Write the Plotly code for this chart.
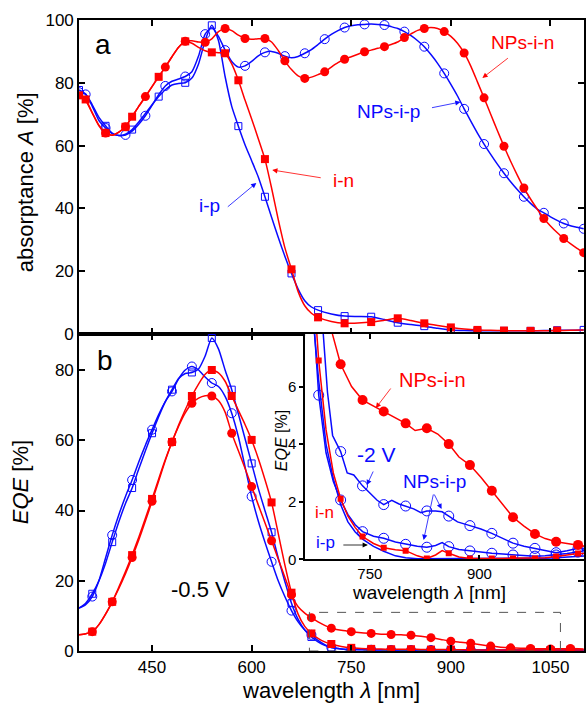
import plotly.graph_objects as go

RED = '#ff0000'
BLUE = '#0a0aff'
FONT = 'Liberation Sans, Arial, sans-serif'

# ---------------- panel a : absorptance A [%] ----------------
A_IN_WL = [340, 350, 360, 370, 380, 390, 400, 410, 420, 430, 440, 450, 460, 470, 480, 490, 500, 510, 520, 530,
           540, 550, 560, 570, 580, 590, 600, 610, 620, 630, 640, 650, 660, 670, 680, 690, 700, 720, 740, 760,
           780, 800, 820, 840, 860, 880, 900, 920, 940, 960, 980, 1000, 1020, 1040, 1060, 1080, 1100]
A_IN = [76.0, 74.7, 70.5, 66.5, 64.0, 63.3, 64.3, 66.0, 69.2, 72.5, 75.6, 78.8, 81.9, 85.0, 88.3, 91.3, 93.2, 92.6, 91.3, 90.2,
        89.7, 89.6, 89.4, 86.0, 80.8, 74.5, 68.5, 62.2, 55.7, 46.5, 36.5, 27.5, 20.6, 13.5, 9.0, 6.6, 5.3, 4.0, 3.4, 3.5,
        3.8, 4.4, 5.0, 4.3, 3.4, 2.7, 2.1, 1.6, 1.3, 1.2, 1.1, 1.0, 1.0, 1.0, 1.1, 1.2, 1.3]
A_IN_MARK = [340, 350, 380, 410, 420, 460, 500, 540, 560, 580, 620, 660, 700, 740, 780, 820, 860, 900, 940, 980, 1020, 1060]

A_NPIN_WL = [340, 350, 360, 370, 380, 390, 400, 410, 420, 430, 440, 450, 460, 470, 480, 490, 500, 510, 520, 530,
             540, 550, 560, 570, 580, 590, 600, 610, 620, 630, 640, 650, 660, 670, 680, 690, 700, 710, 720, 730,
             740, 750, 760, 770, 780, 790, 800, 810, 820, 830, 840, 850, 860, 870, 880, 890, 900, 910, 920, 930,
             940, 950, 960, 970, 980, 990, 1000, 1010, 1020, 1030, 1040, 1050, 1060, 1070, 1080, 1090, 1100]
A_NPIN = [75.5, 74.3, 70.3, 66.3, 64.0, 63.3, 64.3, 66.0, 69.2, 72.5, 75.6, 78.8, 82.0, 85.0, 88.3, 91.3, 93.2, 93.4, 93.0, 92.9,
          94.0, 96.3, 97.3, 96.6, 95.2, 94.1, 93.9, 94.0, 94.1, 93.0, 90.3, 87.0, 84.2, 82.2, 81.4, 81.8, 82.6, 83.5, 85.0, 86.4,
          87.5, 88.3, 89.1, 89.9, 90.4, 91.0, 91.5, 92.2, 93.0, 94.4, 95.6, 96.7, 97.3, 97.6, 97.3, 96.3, 94.8, 92.6, 89.5, 85.3,
          80.3, 75.2, 70.0, 64.8, 59.8, 55.0, 50.6, 46.5, 43.0, 39.8, 36.8, 34.4, 32.3, 30.4, 28.8, 27.3, 25.9]
A_NPIN_MARK = [380, 410, 440, 470, 500, 530, 560, 590, 620, 650, 680, 710, 740, 770, 800, 830, 860, 890, 920, 950,
               980, 1010, 1040, 1070, 1100]

A_NPIP_WL = A_NPIN_WL
A_NPIP = [77.0, 76.3, 72.5, 68.0, 65.6, 63.8, 63.2, 63.4, 64.6, 66.8, 69.5, 72.8, 76.2, 79.0, 80.5, 81.2, 82.0, 83.5, 88.5, 95.5,
          97.5, 94.8, 90.4, 86.8, 85.0, 85.4, 86.8, 88.6, 89.7, 90.0, 89.4, 88.5, 88.0, 88.4, 89.4, 90.6, 92.2, 93.9, 95.4, 96.6,
          97.6, 98.2, 98.5, 98.6, 98.7, 98.6, 98.4, 97.9, 97.3, 96.3, 95.0, 93.4, 91.5, 89.0, 86.2, 83.0, 79.5, 75.8, 71.7, 67.8,
          64.0, 60.5, 57.2, 54.1, 51.2, 48.5, 46.0, 43.7, 41.6, 39.8, 38.6, 37.3, 36.2, 35.2, 34.5, 34.0, 33.5]
A_NPIP_MARK = [340, 350, 380, 410, 440, 470, 500, 530, 560, 590, 620, 650, 680, 710, 740, 770, 800, 830, 860, 890,
               920, 950, 980, 1010, 1040, 1070, 1100]

A_IP_WL = [340, 350, 360, 370, 380, 390, 400, 410, 420, 430, 440, 450, 460, 470, 480, 490, 500, 510, 520, 530,
           540, 550, 560, 570, 580, 590, 600, 610, 620, 630, 640, 650, 660, 670, 680, 690, 700, 720, 740, 760,
           780, 800, 820, 840, 860, 880, 900, 920, 940, 960, 980, 1000, 1020, 1040, 1060, 1080, 1100]
A_IP = [77.7, 76.4, 73.0, 69.0, 66.3, 64.0, 63.2, 63.6, 65.1, 67.5, 70.2, 73.0, 75.6, 77.8, 79.3, 79.8, 80.0, 81.5, 86.0, 93.5,
        98.3, 93.5, 82.0, 72.5, 66.2, 60.3, 55.2, 50.0, 43.7, 37.2, 30.8, 24.8, 19.3, 14.3, 10.6, 8.6, 7.6, 6.4, 5.7, 5.6,
        5.5, 4.6, 3.6, 3.0, 2.5, 1.8, 1.3, 1.1, 1.0, 1.0, 1.0, 1.0, 1.0, 1.1, 1.2, 1.2, 1.3]
A_IP_MARK = [340, 380, 420, 460, 500, 540, 580, 620, 660, 700, 740, 780, 820, 860, 900, 940, 980, 1020, 1060, 1100]

# ---------------- panel b : EQE [%] at -0.5 V ----------------
E_WL = [340, 350, 360, 370, 380, 390, 400, 410, 420, 430, 440, 450, 460, 470, 480, 490, 500, 510, 520, 530,
        540, 550, 560, 570, 580, 590, 600, 610, 620, 630, 640, 650, 660, 670, 680, 690, 700, 710, 720, 735,
        750, 765, 780, 795, 810, 825, 840, 855, 870, 885, 900, 915, 930, 945, 960, 975, 990, 1005, 1020, 1035,
        1050, 1065, 1080, 1100]
E_IN = [4.6, 4.9, 5.5, 7.5, 10.5, 14.0, 18.2, 22.6, 27.3, 32.4, 37.8, 43.3, 49.0, 54.5, 59.5, 64.3, 68.7, 72.6, 76.0, 78.8,
        80.0, 79.2, 76.8, 72.6, 68.5, 64.5, 60.1, 54.8, 48.8, 42.3, 33.5, 24.5, 16.6, 10.5, 7.0, 5.0, 3.6, 2.6, 2.0, 1.3,
        0.9, 0.7, 0.6, 0.55, 0.5, 0.5, 0.5, 0.45, 0.4, 0.4, 0.4, 0.35, 0.3, 0.3, 0.3, 0.3, 0.3, 0.3, 0.3, 0.3,
        0.3, 0.3, 0.3, 0.3]
E_NPIN = [4.6, 4.9, 5.5, 7.5, 10.5, 14.0, 17.8, 22.0, 26.6, 31.6, 37.0, 42.6, 48.4, 54.2, 59.5, 64.0, 67.8, 70.5, 72.0, 72.7,
          72.6, 71.3, 68.0, 62.0, 57.0, 52.0, 46.8, 41.6, 36.5, 31.4, 26.2, 21.0, 16.0, 12.6, 10.8, 9.5, 8.3, 7.3, 6.5, 5.9,
          5.5, 5.2, 5.0, 4.8, 4.7, 4.6, 4.5, 4.2, 3.8, 3.3, 2.8, 2.5, 2.2, 1.8, 1.4, 1.1, 0.9, 0.8, 0.7, 0.65,
          0.6, 0.62, 0.7, 0.6]
E_IP = [12.2, 13.6, 16.3, 20.0, 25.0, 31.0, 36.8, 42.0, 46.4, 51.8, 57.0, 62.0, 66.7, 71.0, 74.4, 77.6, 79.0, 79.3, 80.3, 84.0,
        89.1, 86.0, 80.0, 74.4, 67.5, 60.5, 53.4, 46.3, 40.0, 33.8, 26.5, 19.8, 13.6, 9.0, 6.0, 4.0, 2.6, 1.6, 1.0, 0.6,
        0.4, 0.35, 0.3, 0.3, 0.3, 0.3, 0.3, 0.3, 0.25, 0.25, 0.25, 0.25, 0.2, 0.2, 0.2, 0.2, 0.2, 0.2, 0.2, 0.2,
        0.2, 0.2, 0.2, 0.2]
E_NPIP = [12.2, 13.2, 15.5, 20.0, 26.5, 33.0, 38.8, 44.0, 48.7, 53.8, 58.6, 63.0, 67.3, 71.0, 73.9, 77.5, 80.0, 81.0, 80.0, 78.0,
          76.3, 75.3, 72.5, 67.7, 61.0, 52.5, 44.0, 37.0, 31.0, 25.4, 20.0, 15.5, 11.5, 8.3, 6.0, 4.6, 3.0, 1.8, 1.0, 0.6,
          0.45, 0.4, 0.35, 0.35, 0.3, 0.3, 0.3, 0.3, 0.3, 0.3, 0.3, 0.3, 0.3, 0.3, 0.3, 0.3, 0.3, 0.3, 0.3, 0.3,
          0.3, 0.3, 0.3, 0.3]
E_MARK = [360, 390, 420, 450, 480, 510, 540, 570, 600, 630, 660, 690, 720, 750, 780, 810, 840, 870, 900, 930,
          960, 990, 1020, 1050, 1080]

# ---------------- inset : EQE [%] at -2 V ----------------
I_NPIN_WL = [690, 699, 710, 725, 740, 758, 769, 785, 799, 812, 828, 843, 858, 872, 887, 902, 917, 932, 946, 961,
             976, 990, 1005, 1020, 1035, 1045]
I_NPIN = [9.5, 7.8, 6.77, 6.0, 5.53, 5.28, 5.13, 4.9, 4.72, 4.47, 4.55, 4.35, 4.0, 3.55, 3.27, 2.85, 2.38, 1.9, 1.46, 1.15,
          0.88, 0.72, 0.61, 0.55, 0.5, 0.45]
I_NPIP1_WL = [680, 686, 692, 699, 705, 710, 719, 728, 740, 750, 760, 769, 780, 790, 799, 810, 820, 828, 840, 849,
              858, 870, 887, 902, 917, 932, 946, 961, 976, 990, 1005, 1020, 1035, 1045]
I_NPIP1 = [10.0, 7.8, 5.8, 4.3, 4.0, 3.74, 3.0, 2.93, 2.55, 2.3, 2.05, 1.9, 2.05, 1.92, 1.85, 1.75, 1.62, 1.68, 1.68, 1.65,
           1.5, 1.3, 1.17, 1.05, 0.9, 0.72, 0.56, 0.45, 0.38, 0.3, 0.23, 0.3, 0.38, 0.35]
I_NPIP2_WL = [670, 680, 690, 700, 710, 720, 730, 740, 755, 769, 785, 799, 815, 828, 840, 849, 858, 872, 887, 902,
              917, 932, 946, 961, 976, 990, 1005, 1020, 1035, 1045]
I_NPIP2 = [9.5, 5.7, 3.7, 2.7, 2.06, 1.55, 1.2, 0.96, 0.8, 0.73, 0.6, 0.52, 0.45, 0.42, 0.48, 0.58, 0.44, 0.34, 0.29, 0.25,
           0.21, 0.18, 0.15, 0.12, 0.11, 0.12, 0.15, 0.2, 0.25, 0.32]
I_IN_WL = I_NPIP2_WL
I_IN = [10.5, 6.9, 4.5, 3.0, 2.1, 1.5, 1.1, 0.79, 0.55, 0.4, 0.33, 0.3, 0.12, 0.03, 0.15, 0.3, 0.21, 0.08, 0.03, 0.02,
        0.03, 0.03, 0.03, 0.03, 0.03, 0.05, 0.1, 0.15, 0.2, 0.2]
I_IP_WL = I_NPIP2_WL
I_IP = [9.0, 6.2, 4.0, 2.8, 1.9, 1.3, 0.95, 0.7, 0.45, 0.28, 0.12, 0.05, 0.02, 0.02, 0.02, 0.02, 0.02, 0.02, 0.02, 0.02,
        0.02, 0.02, 0.02, 0.02, 0.03, 0.04, 0.05, 0.08, 0.1, 0.12]
I_MARK = [710, 740, 769, 799, 828, 858, 887, 917, 946, 976, 1005, 1035]
I_MARK2 = [680, 710, 740, 769, 799, 828, 858, 887, 917, 946, 976, 1005, 1035]

# ---------------- tick labels ----------------
X_TICKS = [450, 600, 750, 900, 1050]
A_TICKS = [0, 20, 40, 60, 80, 100]
E_TICKS = [0, 20, 40, 60, 80]
INSET_X_TICKS = [750, 900]
INSET_Y_TICKS = [0, 2, 4, 6]

# ---------------- geometry ----------------
W, H = 586, 703
ML, MR, MT, MB = 79, 0, 20, 52
PW, PH = W - ML - MR, H - MT - MB


def paper(x, y):
    return (x - ML) / PW, (H - MB - y) / PH


SPLIT = paper(0, 334)[1]
INSET_X0 = paper(306, 0)[0]
INSET_Y0 = paper(0, 559.3)[1]


def pick(wl, vals, marks):
    d = dict(zip(wl, vals))
    return marks, [d[m] for m in marks]


fig = go.Figure()


def add_curve(wl, vals, marks, color, symbol, size, xa, ya, shape='spline', lw=1.5):
    fig.add_trace(go.Scatter(x=wl, y=vals, mode='lines', line=dict(color=color, width=lw, shape=shape,
                                                                  smoothing=0.6),
                             xaxis=xa, yaxis=ya, showlegend=False, hoverinfo='skip'))
    mx, my = pick(wl, vals, marks)
    open_ = symbol.endswith('-open')
    fig.add_trace(go.Scatter(x=mx, y=my, mode='markers',
                             marker=dict(symbol=symbol, size=size, color=color,
                                         line=dict(color=color, width=1 if open_ else 0)),
                             xaxis=xa, yaxis=ya, showlegend=False, hoverinfo='skip'))


# panel a
add_curve(A_NPIP_WL, A_NPIP, A_NPIP_MARK, BLUE, 'circle-open', 9, 'x', 'y')
add_curve(A_IP_WL, A_IP, A_IP_MARK, BLUE, 'square-open', 7, 'x', 'y')
add_curve(A_NPIN_WL, A_NPIN, A_NPIN_MARK, RED, 'circle', 9, 'x', 'y')
add_curve(A_IN_WL, A_IN, A_IN_MARK, RED, 'square', 8, 'x', 'y')

# panel b
add_curve(E_WL, E_NPIP, E_MARK, BLUE, 'circle-open', 9, 'x2', 'y2')
add_curve(E_WL, E_IP, E_MARK, BLUE, 'square-open', 7, 'x2', 'y2')
add_curve(E_WL, E_NPIN, E_MARK, RED, 'circle', 9, 'x2', 'y2')
add_curve(E_WL, E_IN, E_MARK, RED, 'square', 8, 'x2', 'y2')

# inset
add_curve(I_IP_WL, I_IP, [], BLUE, 'square-open', 7, 'x3', 'y3', shape='linear')
add_curve(I_NPIP2_WL, I_NPIP2, I_MARK2, BLUE, 'circle-open', 10, 'x3', 'y3', shape='linear')
add_curve(I_NPIP1_WL, I_NPIP1, I_MARK, BLUE, 'circle-open', 10, 'x3', 'y3', shape='linear')
add_curve(I_IN_WL, I_IN, I_MARK2, RED, 'square', 6, 'x3', 'y3', shape='linear')
add_curve(I_NPIN_WL, I_NPIN, I_MARK, RED, 'circle', 10, 'x3', 'y3', shape='linear')

axis_common = dict(showline=True, linewidth=1.6, linecolor='black', mirror='ticks', ticks='inside',
                   ticklen=6, tickwidth=1.6, tickcolor='black', showgrid=False, zeroline=False,
                   tickfont=dict(family=FONT, size=17, color='black'))

fig.update_layout(
    width=W, height=H, margin=dict(l=ML, r=MR, t=MT, b=MB),
    paper_bgcolor='white', plot_bgcolor='white', showlegend=False,
    xaxis=dict(axis_common, domain=[0, 1], range=[340, 340 + PW * 1.5], anchor='y',
               tickvals=X_TICKS, showticklabels=False),
    yaxis=dict(axis_common, domain=[SPLIT, 1], range=[0, 100], anchor='x', tickvals=A_TICKS),
    xaxis2=dict(axis_common, domain=[0, 1], range=[340, 340 + PW * 1.5], anchor='y2',
                tickvals=X_TICKS),
    yaxis2=dict(axis_common, domain=[0, SPLIT], range=[0, (651 - 334) / 3.5125], anchor='x2',
                tickvals=E_TICKS),
    xaxis3=dict(axis_common, domain=[INSET_X0, 1], range=[750 - 65 * 150 / 110, 750 + (586 - 371) * 150 / 110],
                anchor='y3', tickvals=INSET_X_TICKS, tickfont=dict(family=FONT, size=15, color='black'),
                ticklen=5),
    yaxis3=dict(axis_common, domain=[INSET_Y0, SPLIT], range=[0, (559.3 - 334) / 28.8], anchor='x3',
                tickvals=INSET_Y_TICKS, ticks='outside', ticklen=4, mirror=True,
                tickfont=dict(family=FONT, size=15, color='black')),
)

# dashed zoom box in panel b
fig.add_shape(type='rect', xref='x2', yref='y2', x0=687, x1=1065, y0=0, y1=11,
              line=dict(color='#555555', width=1, dash='dash'))

annotations = []


def text(x, y, s, size, color='black', angle=0):
    px_, py_ = paper(x, y)
    annotations.append(dict(x=px_, y=py_, xref='paper', yref='paper', text=s, showarrow=False,
                            xanchor='center', yanchor='middle', textangle=angle,
                            font=dict(family=FONT, size=size, color=color)))


def arrow(tail, head, color):
    hx, hy = paper(*head)
    annotations.append(dict(x=hx, y=hy, xref='paper', yref='paper', text='', showarrow=True,
                            ax=tail[0] - head[0], ay=tail[1] - head[1],
                            arrowhead=2, arrowsize=1.3, arrowwidth=0.8, arrowcolor=color))


text(103, 45, 'a', 28)
text(105, 360, 'b', 28)
text(25, 182, 'absorptance <i>A</i> [%]', 22, angle=-90)
text(20, 482, '<i>EQE</i> [%]', 22, angle=-90)
text(332, 690, 'wavelength <i>λ</i> [nm]', 22)
text(201, 589, '-0.5 V', 22)
text(524, 43, 'NPs-i-n', 19, RED)
text(390, 112, 'NPs-i-p', 19, BLUE)
text(345, 181, 'i-n', 19, RED)
text(210, 206, 'i-p', 19, BLUE)
arrow((511, 57), (484, 78), RED)
arrow((432, 108), (462, 102), BLUE)
arrow((323, 178), (273, 170), RED)
arrow((227, 208), (257, 183), BLUE)

# inset texts
text(434, 380, 'NPs-i-n', 20, RED)
text(378, 455, '-2 V', 21, BLUE)
text(436, 481, 'NPs-i-p', 19, BLUE)
text(325, 512, 'i-n', 17, RED)
text(326, 542, 'i-p', 17, BLUE)
text(430, 592, 'wavelength <i>λ</i> [nm]', 19)
text(282, 441, '<i>EQE</i> [%]', 16, angle=-90)
arrow((393, 387), (377, 408), RED)
arrow((375, 470), (368, 485), BLUE)
arrow((435, 493), (443, 509), BLUE)
arrow((435, 493), (425, 540), BLUE)
arrow((343, 545), (369, 545), 'black')

fig.update_layout(annotations=annotations)

fig.write_html('out.html', config={'displayModeBar': False},
               post_script="document.body.style.margin='0';")
